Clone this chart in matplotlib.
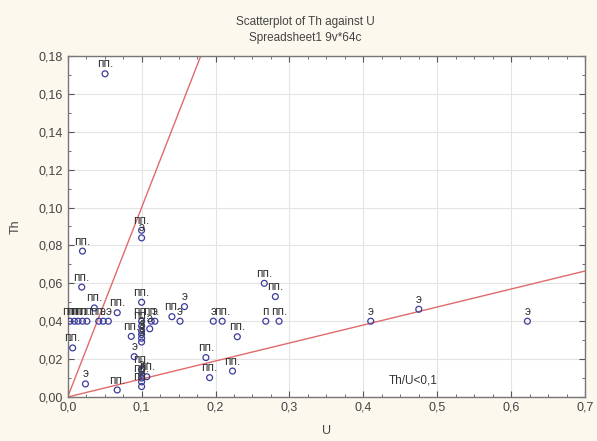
import numpy as np
import matplotlib
matplotlib.use('Agg')
import matplotlib.pyplot as plt
from matplotlib.ticker import FuncFormatter, MultipleLocator

plt.rcParams['font.family'] = ['Liberation Sans', 'DejaVu Sans']

## data: U, Th, point label
u_vals = [0.0505, 0.100, 0.100, 0.020, 0.019, 0.036, 0.067, 0.100, 0.141, 0.158,
          0.266, 0.281,
          0.003, 0.009, 0.014, 0.020, 0.026, 0.042, 0.048, 0.055,
          0.100, 0.100, 0.100, 0.100, 0.100, 0.100,
          0.113, 0.118, 0.111, 0.086, 0.152, 0.197, 0.209, 0.268, 0.286,
          0.2295, 0.187, 0.192, 0.223, 0.090, 0.067, 0.024, 0.0067,
          0.100, 0.100, 0.100, 0.100, 0.100, 0.107,
          0.410, 0.475, 0.622]
th_vals = [0.1706, 0.088, 0.084, 0.077, 0.058, 0.047, 0.0445, 0.050, 0.0424, 0.0477,
           0.060, 0.053,
           0.040, 0.040, 0.040, 0.040, 0.040, 0.040, 0.040, 0.040,
           0.040, 0.0375, 0.035, 0.033, 0.031, 0.029,
           0.040, 0.040, 0.036, 0.032, 0.040, 0.040, 0.040, 0.040, 0.040,
           0.0318, 0.0208, 0.0102, 0.0137, 0.0213, 0.0037, 0.0069, 0.0259,
           0.0145, 0.012, 0.010, 0.008, 0.0055, 0.0107,
           0.040, 0.0463, 0.040]
pt_labels = ['пп.', 'пп.', 'э', 'пп.', 'пп.', 'пп.', 'пп.', 'пп.', 'пп.', 'э',
             'пп.', 'пп.',
             'пп.', 'пп.', 'пп.', 'пп.', 'пп.', 'пп.', 'э', 'э',
             'пп.', 'пп.', 'э', 'э', 'э', 'э',
             'пп.', 'э', 'э', 'пп.', 'э', 'э', 'пп.', 'п', 'пп.',
             'пп.', 'пп.', 'пп.', 'пп.', 'э', 'пп.', 'э', 'пп.',
             'пп.', 'э', 'пп.', 'э', 'пп.', 'пп.',
             'э', 'э', 'э']

## reference lines Th/U
ratio_hi = 1.0
ratio_lo = 0.095
line_u = [0.0, 0.7]

bg = '#fcf8ee'
fig = plt.figure(figsize=(5.97, 4.41), dpi=100, facecolor=bg)
ax = fig.add_axes([0.1134, 0.0998, 0.8666, 0.7732])
ax.set_facecolor('white')

ax.plot(line_u, [v*ratio_hi for v in line_u], c='#e06a6a', lw=1.0, zorder=2)
ax.plot(line_u, [v*ratio_lo for v in line_u], c='#e06a6a', lw=1.0, zorder=2)

ax.scatter(u_vals, th_vals, s=18, facecolors='none', edgecolors='#3c3c9c',
           linewidths=0.9, zorder=3)
for u, t, l in zip(u_vals, th_vals, pt_labels):
    ax.annotate(l, (u, t), xytext=(0, 2.5), textcoords='offset points',
                ha='center', va='bottom', fontsize=8.5, color='#333333', zorder=4)

ax.text(0.435, 0.0055, 'Th/U<0,1', fontsize=8.5, color='#333333', ha='left', va='bottom')

ax.set_xlim(0, 0.7)
ax.set_ylim(0, 0.18)
ax.xaxis.set_major_locator(MultipleLocator(0.1))
ax.xaxis.set_minor_locator(MultipleLocator(0.025))
ax.yaxis.set_major_locator(MultipleLocator(0.02))
ax.yaxis.set_minor_locator(MultipleLocator(0.01))
ax.xaxis.set_major_formatter(FuncFormatter(lambda v, p: ('%.1f' % v).replace('.', ',')))
ax.yaxis.set_major_formatter(FuncFormatter(lambda v, p: ('%.2f' % v).replace('.', ',')))
ax.tick_params(which='both', direction='in', top=True, right=True, color='#555555',
               labelsize=9, labelcolor='#444444')
ax.tick_params(which='major', length=4)
ax.tick_params(which='minor', length=2.5)
ax.grid(True, which='major', color='#e4e4e4', lw=0.8, zorder=0)
ax.set_axisbelow(True)
for s in ax.spines.values():
    s.set_color('#777777')
    s.set_linewidth(1.0)

ax.set_xlabel('U', fontsize=9, color='#444444', labelpad=8)
ax.set_ylabel('Th', fontsize=9, color='#444444', labelpad=12)

fig.text(0.512, 0.950, 'Scatterplot of Th against U', ha='center', va='center',
         fontsize=8.5, color='#444444')
fig.text(0.512, 0.913, 'Spreadsheet1 9v*64c', ha='center', va='center',
         fontsize=8.5, color='#444444')

fig.savefig('out.png', dpi=100, facecolor=bg)
